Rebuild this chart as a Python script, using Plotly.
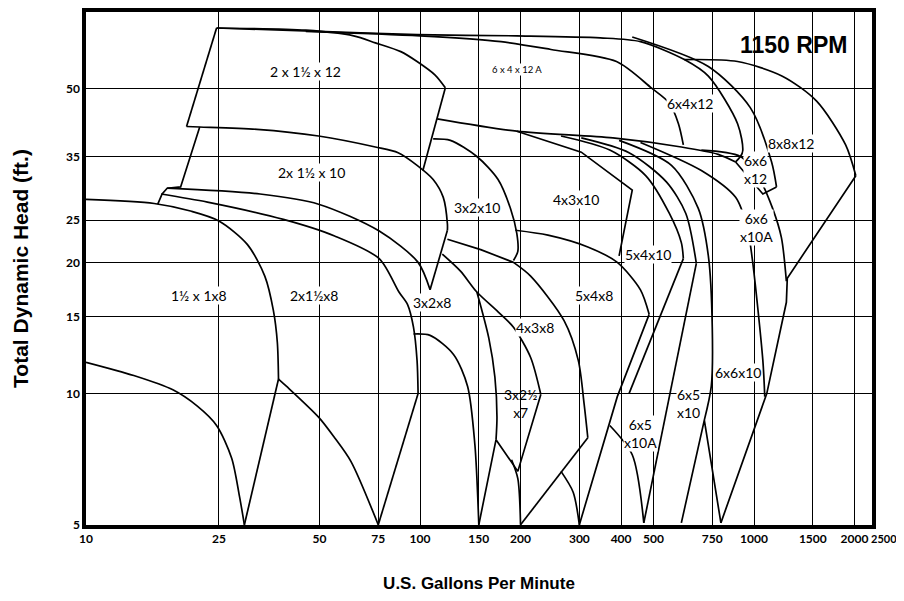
import math
import plotly.graph_objects as go

# ---------------- axis ticks ----------------
x_tick_vals = [10, 25, 50, 75, 100, 150, 200, 300, 400, 500, 750, 1000, 1500, 2000]
x_tick_text = ["10", "25", "50", "75", "100", "150", "200", "300", "400", "500", "750", "1000", "1500", "2000"]
x_edge_label = "2500"
y_tick_vals = [5, 10, 15, 20, 25, 35, 50, 75]
y_tick_text = ["5", "10", "15", "20", "25", "35", "50", "75"]

# ---------------- curve data (gpm, ft) ----------------
# 1 1/2 x 1 x 8
A1_q = [10, 16.0, 20.7, 25, 30.4, 34.3, 36.4, 37.4, 37.7]
A1_h = [27.9, 27.3, 26.2, 24.9, 22.0, 18.6, 15.5, 13.1, 10.8]
A2_q = [10, 13.9, 18.2, 21.5, 24.6, 27.3, 28.8, 29.8]
A2_h = [11.8, 11.0, 10.2, 9.37, 8.45, 7.11, 5.82, 5.0]
A3_q = [29.8, 37.7]
A3_h = [5.0, 10.8]
# 2 x 1 1/2 x 8
B1_q = [16.8, 23.1, 39.0, 55.5, 75.5, 86.5, 91.8, 95.6, 98.0, 98.7]
B1_h = [28.7, 27.5, 25.1, 23.0, 20.4, 17.1, 16.0, 14.2, 11.9, 10.0]
B2_q = [37.7, 39.8, 49.7, 55.5, 62.1, 75]
B2_h = [10.8, 10.4, 8.83, 7.92, 6.99, 5.0]
B3_q = [75, 98.7]
B3_h = [5.0, 10.0]
# left step boundaries
ST_q = [16.4, 16.9, 17.5, 19.2, 21.9]
ST_h = [27.2, 28.7, 29.6, 29.8, 40.9]
# 2 x 1 1/2 x 10
C1_q = [20.0, 21.9, 32.5, 49.7, 73.5, 86.0, 98.0, 109.5, 117.4, 120.8, 120.8]
C1_h = [41.0, 40.9, 40.4, 39.0, 36.8, 35.7, 33.4, 31.0, 28.2, 24.5, 23.7]
C2_q = [17.5, 33.2, 49.7, 75.5, 98.7, 107.2]
C2_h = [29.6, 28.7, 27.2, 23.6, 20.0, 17.3]
C3_q = [107.2, 120.8]
C3_h = [17.3, 23.7]
# 2 x 1 1/2 x 12
D1_q = [24.6, 45.5, 63.3, 73.5, 87.6, 98.0, 111, 119.1]
D1_h = [69.0, 68.2, 66.2, 63.8, 60.9, 57.8, 53.8, 50.3]
D2_q = [119.1, 102]
D2_h = [50.3, 32.5]
D3_q = [24.6, 20.0]
D3_h = [69.0, 41.0]
# 6 x 4 x 12A / 6 x 4 x 12 tops
T1_q = [24.6, 49.7, 98.0, 194.9, 346.5, 457.2, 618.7, 730, 893, 924, 881]
T1_h = [69.0, 67.8, 66.6, 66.2, 65.5, 64.2, 58.4, 53.5, 41.6, 35.8, 34.0]
T2_q = [45.5, 100, 174.9, 246.6, 387.5, 492.6, 558, 594, 614.4]
T2_h = [67.8, 66.2, 64.2, 61.6, 57.8, 50.3, 46.4, 41.6, 37.2]
T3_q = [112.6, 194.9, 378, 606, 781, 881]
T3_h = [42.7, 40.0, 38.6, 36.8, 35.4, 34.0]
# 3 x 2 x 10
E1_q = [109.5, 123.3, 148, 171.3, 186.6, 194.9, 196.3, 190.5]
E1_h = [38.4, 38.1, 35.0, 31.0, 26.6, 23.3, 21.2, 20.2]
E2_q = [120.8, 152, 190.5]
E2_h = [22.6, 21.4, 20.0]
# 4 x 3 x 10
K1_q = [194.9, 304, 432, 394.5]
K1_h = [40.0, 35.8, 29.3, 20.7]
# 5 x 4 x 8
F1_q = [193, 241.6, 318, 389.7, 457.2, 485.4]
F1_h = [23.7, 23.1, 21.7, 20.0, 17.3, 15.2]
SJ_q = [300, 389.7, 485.4]
SJ_h = [5.0, 9.84, 15.2]
# 4 x 3 x 8 / 3 x 2 1/2 x 7 / 3 x 2 x 8
SH_q = [190.5, 214.4, 270, 297.9, 310, 318]
SH_h = [20.0, 18.6, 14.7, 11.9, 9.47, 7.92]
SA_q = [116.6, 132.2, 148, 171.3, 190.5, 214.4, 230]
SA_h = [20.9, 19.1, 17.1, 15.4, 14.2, 12.1, 9.95]
SB_q = [148, 160.7, 167.6, 170, 168.9]
SB_h = [17.1, 13.4, 10.9, 8.83, 7.84]
SC_q = [150, 168.9, 196.3, 230]
SC_h = [5.0, 7.84, 6.63, 9.95]
SF_q = [188, 196.3, 200]
SF_h = [7.05, 6.38, 5.0]
SG_q = [200, 318]
SG_h = [5.0, 7.92]
SI_q = [264.4, 287.5, 300]
SI_h = [6.63, 5.94, 5.0]
G1_q = [95.6, 107.2, 126, 138.8, 146, 150]
G1_h = [13.7, 13.6, 12.3, 10.4, 7.63, 5.0]
# 5 x 4 x 10 / 6 x 5 x 10A / 6 x 5 x 10
P1_q = [264.4, 370, 474.6, 558, 606, 614.4]
P1_h = [39.0, 36.2, 31.6, 25.9, 22.2, 20.4]
P2_q = [614.4, 422.5]
P2_h = [20.4, 10.0]
P3_q = [304, 422.5, 546.6, 625, 672]
P3_h = [38.6, 35.7, 30.6, 25.9, 19.9]
P4_q = [672, 467.8]
P4_h = [19.9, 5.05]
P5_q = [370, 432, 467.8]
P5_h = [8.45, 7.24, 5.05]
Q1_q = [394.5, 566, 681, 730, 750, 745, 710]
Q1_h = [38.1, 33.4, 26.6, 20.7, 14.2, 10.4, 8.69]
Q2_q = [606, 710, 796]
Q2_h = [5.05, 8.69, 5.05]
# 6 x 6 x 10A / 6 x 6 x 10
Q4_q = [457.2, 695.6, 881, 955, 988, 1063, 1077]
Q4_h = [37.7, 32.5, 28.2, 24.0, 20.4, 11.9, 9.84]
R6_q = [695.6, 910, 1041, 1137, 1208, 1250]
R6_h = [36.2, 35.0, 31.0, 26.6, 22.8, 18.1]
# 8 x 8 x 12 / 6 x 6 x 12
R1_q = [796, 1092, 1250, 1258, 2018]
R1_h = [5.05, 10.0, 16.2, 18.4, 31.6]
R2_q = [618.7, 893, 1216, 1540, 1881, 2018]
R2_h = [58.4, 57.8, 53.5, 46.9, 37.2, 31.6]
R3_q = [432, 730, 974.6, 1129, 1168]
R3_h = [65.8, 56.3, 45.3, 34.0, 29.8]
R4_q = [881, 1063, 1168]
R4_h = [34.0, 28.7, 29.8]

# ---------------- labels ----------------
label_text = ["2 x 1½ x 12", "6 x 4 x 12 A", "6x4x12", "8x8x12", "6x6<br>x12", "6x6<br>x10A",
              "2x 1½ x 10", "3x2x10", "4x3x10", "5x4x10", "1½ x 1x8", "2x1½x8", "3x2x8",
              "4x3x8", "5x4x8", "3x2½<br>x7", "6x5<br>x10A", "6x5<br>x10", "6x6x10"]
label_q = [45.5, 195, 645, 1293, 1010, 1020, 47.4, 148, 294, 482, 21.8, 48.3, 108.7, 220.5, 333, 200, 457, 637, 893]
label_h = [54.9, 55.5, 46.4, 37.5, 32.7, 24.0, 32.1, 26.8, 27.9, 20.9, 16.8, 16.8, 16.2, 14.2, 16.8, 9.5, 8.1, 9.47, 11.2]
label_size = [14, 9.5, 14, 14, 14, 14, 14, 14, 14, 14, 14, 14, 14, 14, 14, 14, 14, 14, 14]
label_bg = ["white"] * 15 + ["rgba(0,0,0,0)"] + ["white"] * 3
title_text = "1150 RPM"

strokes = [
    (A1_q, A1_h, "spline"), (A2_q, A2_h, "spline"), (A3_q, A3_h, "linear"),
    (B1_q, B1_h, "spline"), (B2_q, B2_h, "spline"), (B3_q, B3_h, "linear"),
    (ST_q, ST_h, "linear"),
    (C1_q, C1_h, "spline"), (C2_q, C2_h, "spline"), (C3_q, C3_h, "linear"),
    (D1_q, D1_h, "spline"), (D2_q, D2_h, "linear"), (D3_q, D3_h, "linear"),
    (T1_q, T1_h, "spline"), (T2_q, T2_h, "spline"), (T3_q, T3_h, "spline"),
    (E1_q, E1_h, "spline"), (E2_q, E2_h, "linear"), (K1_q, K1_h, "linear"),
    (F1_q, F1_h, "spline"), (SJ_q, SJ_h, "linear"),
    (SH_q, SH_h, "spline"), (SA_q, SA_h, "spline"), (SB_q, SB_h, "spline"),
    (SC_q, SC_h, "linear"), (SF_q, SF_h, "spline"), (SG_q, SG_h, "linear"),
    (SI_q, SI_h, "spline"), (G1_q, G1_h, "spline"),
    (P1_q, P1_h, "spline"), (P2_q, P2_h, "linear"), (P3_q, P3_h, "spline"),
    (P4_q, P4_h, "linear"), (P5_q, P5_h, "spline"), (Q1_q, Q1_h, "spline"),
    (Q2_q, Q2_h, "linear"), (Q4_q, Q4_h, "spline"), (R6_q, R6_h, "spline"),
    (R1_q, R1_h, "linear"), (R2_q, R2_h, "spline"), (R3_q, R3_h, "spline"),
    (R4_q, R4_h, "linear"),
]

fig = go.Figure()
for q, h, shape in strokes:
    fig.add_trace(go.Scatter(x=q, y=h, mode="lines", showlegend=False, hoverinfo="skip",
                             line=dict(color="black", width=1.7, shape=shape, smoothing=0.8)))

for t, q, h, s, bg in zip(label_text, label_q, label_h, label_size, label_bg):
    fig.add_annotation(x=math.log10(q), y=math.log10(h), text=t, showarrow=False,
                       xanchor="center", yanchor="middle", bgcolor=bg, borderpad=0,
                       font=dict(family="Lato", size=s, color="black"))

fig.add_annotation(xref="paper", yref="paper", x=0.8995, y=0.936, xanchor="center", yanchor="middle",
                   text="<b>" + title_text + "</b>", showarrow=False,
                   font=dict(family="Liberation Sans Narrow, Liberation Sans", size=23, color="black"))
fig.add_annotation(xref="paper", yref="paper", x=1, y=0, xshift=12, yshift=-5,
                   xanchor="center", yanchor="top",
                   text=x_edge_label, showarrow=False,
                   font=dict(family="Lato", size=11, color="black", weight="bold"))

fig.update_xaxes(type="log", range=[1, 3.3533], tickvals=x_tick_vals, ticktext=x_tick_text,
                 automargin=False,
                 showgrid=True, gridcolor="black", gridwidth=1.4, showline=True, linecolor="black",
                 linewidth=3.5, mirror=True, ticks="", zeroline=False,
                 tickfont=dict(family="Lato", size=12, color="black", weight="bold"),
                 title=dict(text="<b>U.S. Gallons Per Minute</b>", standoff=38,
                            font=dict(family="Liberation Sans", size=17, color="black")))
fig.update_yaxes(type="log", range=[math.log10(5) - 0.0005, math.log10(75) + 0.0005],
                 tickvals=y_tick_vals, ticktext=y_tick_text,
                 automargin=False,
                 showgrid=True, gridcolor="black", gridwidth=1.4, showline=True, linecolor="black",
                 linewidth=3.5, mirror=True, ticks="", zeroline=False,
                 tickfont=dict(family="Lato", size=12, color="black", weight="bold"),
                 title=dict(text="<b>Total Dynamic Head (ft.)</b>", standoff=33,
                            font=dict(family="Liberation Sans", size=21, color="black")))
fig.update_layout(width=896, height=585, margin=dict(l=78, r=32, t=4, b=68),
                  plot_bgcolor="white", paper_bgcolor="white")
fig.write_html("out.html")
